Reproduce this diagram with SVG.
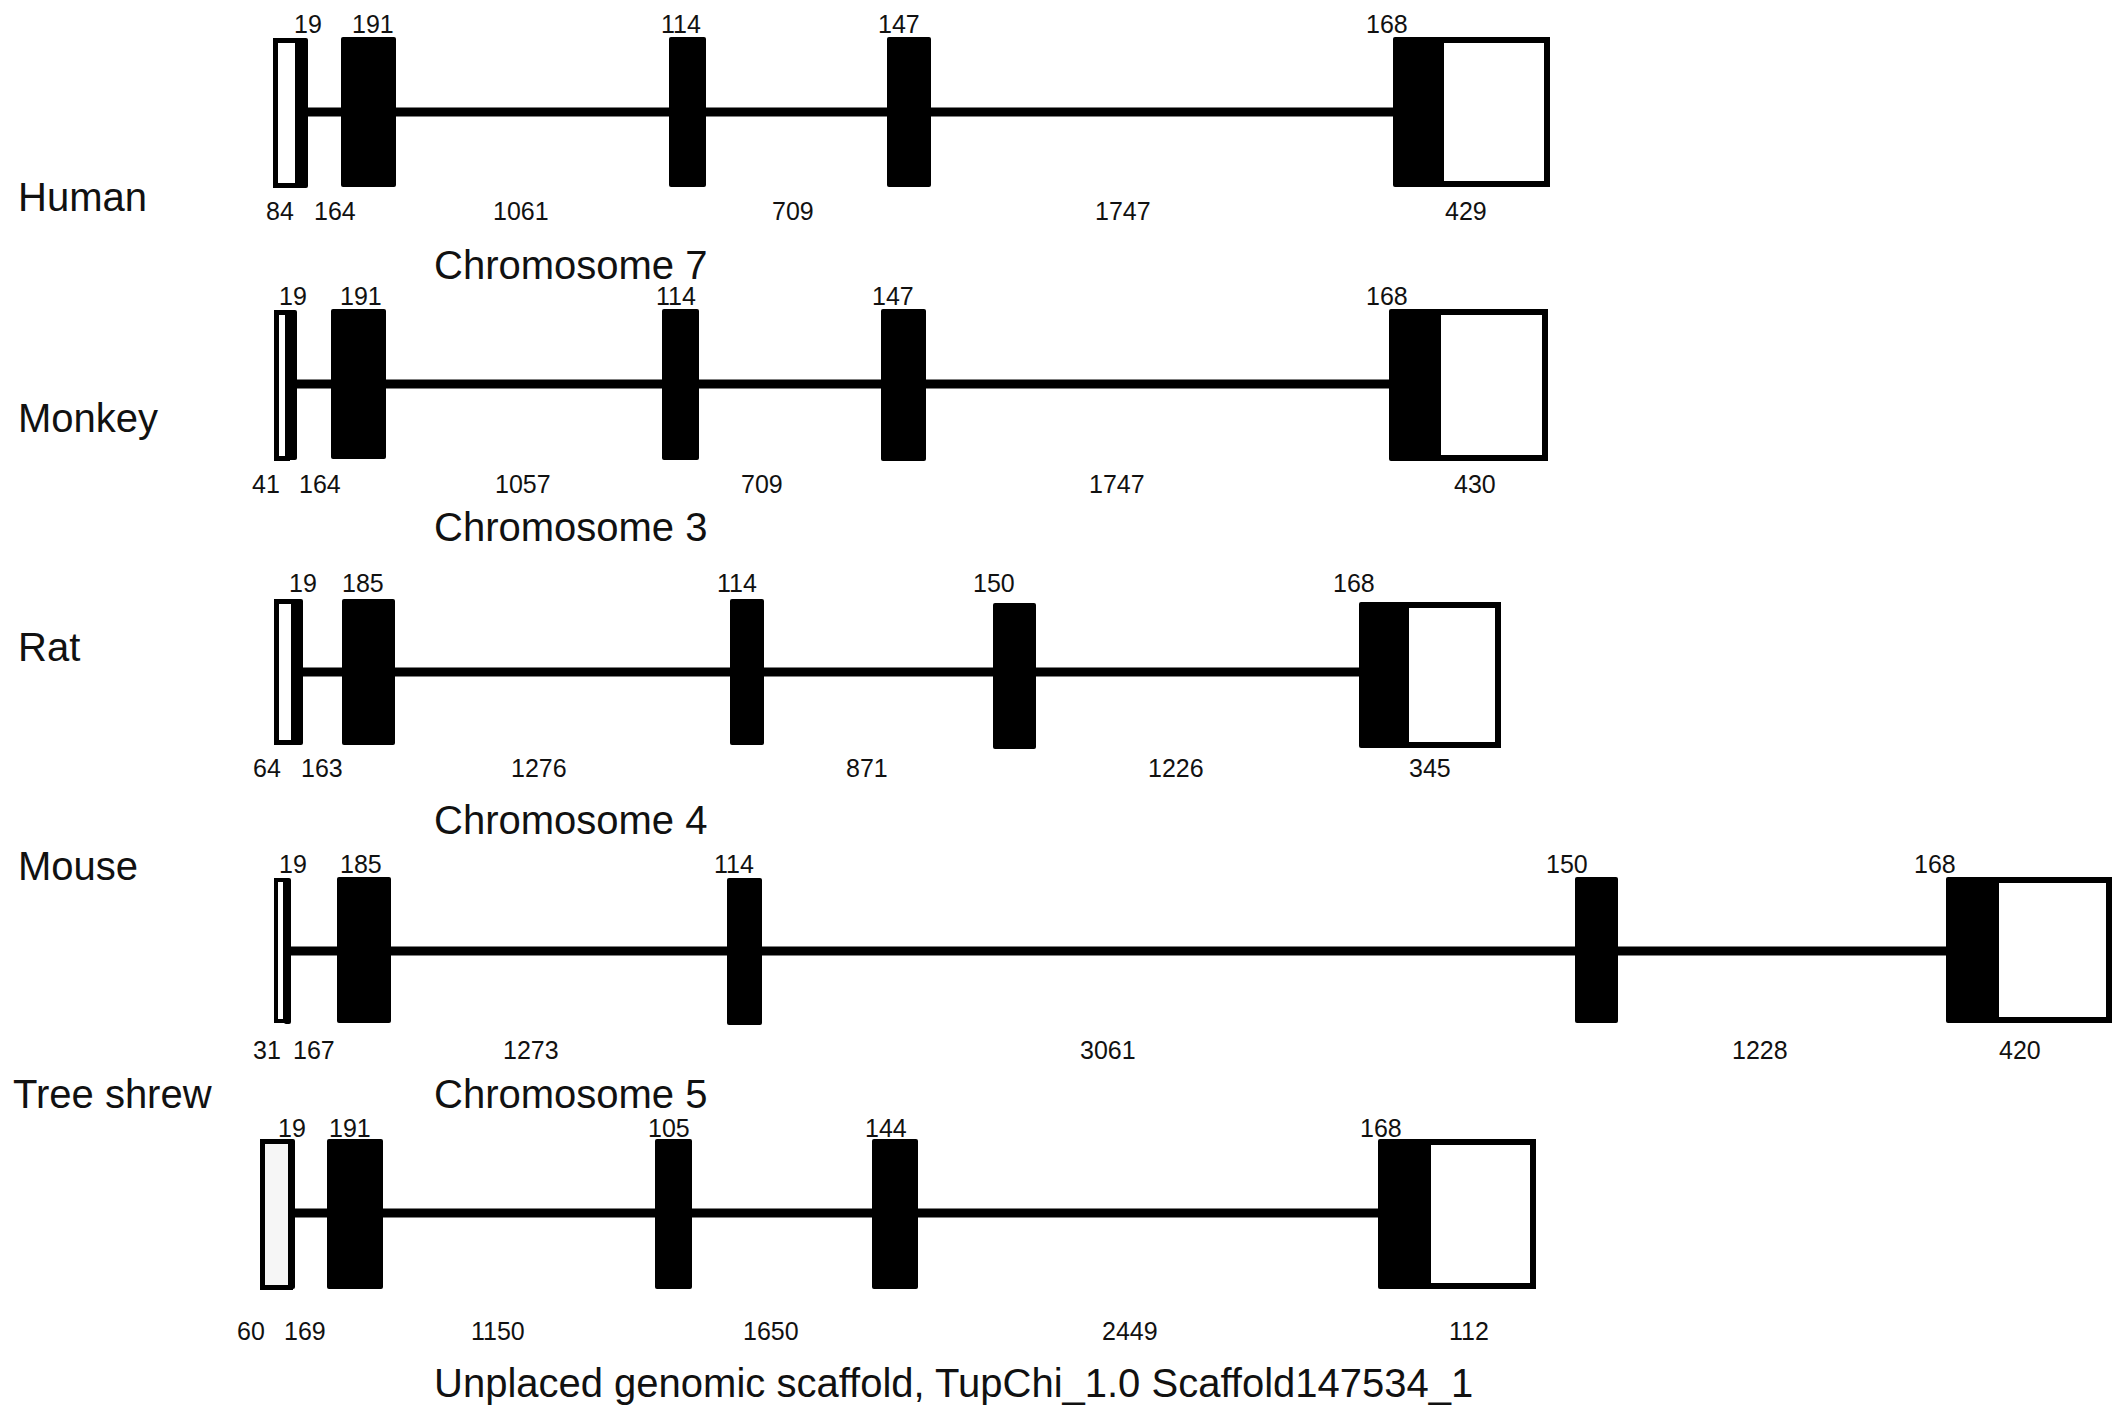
<svg xmlns="http://www.w3.org/2000/svg" width="2126" height="1419" viewBox="0 0 2126 1419">
<style>
.ex{fill:#000;}
.utr{fill:#fff;stroke:#000;stroke-width:5;}
.utr3{fill:#fff;stroke:#000;stroke-width:6;}
.intron{stroke:#000;stroke-width:9;fill:none;}
.num{font-family:"Liberation Sans",Arial,sans-serif;font-size:25px;fill:#111;}
.sp{font-family:"Liberation Sans",Arial,sans-serif;font-size:40px;fill:#111;}
</style>
<rect width="2126" height="1419" fill="#fff"/>
<g id="connectors">
<line class="intron" x1="305" y1="112" x2="1395" y2="112"/>
<line class="intron" x1="295" y1="384" x2="1391" y2="384"/>
<line class="intron" x1="300" y1="672" x2="1361" y2="672"/>
<line class="intron" x1="288" y1="951" x2="1948" y2="951"/>
<line class="intron" x1="293" y1="1213" x2="1380" y2="1213"/>
</g>
<g id="human">
<text class="sp" x="18" y="211">Human</text>
<rect class="utr" x="275.5" y="40.5" width="22" height="145"/>
<rect class="ex" x="296" y="38" width="12" height="150" rx="2"/>
<rect class="ex" x="341" y="37" width="55" height="150" rx="2"/>
<rect class="ex" x="669" y="37" width="37" height="150" rx="2"/>
<rect class="ex" x="887" y="37" width="44" height="150" rx="2"/>
<rect class="utr3" x="1441" y="40" width="106" height="144"/>
<rect class="ex" x="1393" y="37" width="48" height="150" rx="2"/>
<text class="num" x="294" y="33">19</text>
<text class="num" x="352" y="33">191</text>
<text class="num" x="661" y="33">114</text>
<text class="num" x="878" y="33">147</text>
<text class="num" x="1366" y="33">168</text>
<text class="num" x="266" y="220">84</text>
<text class="num" x="314" y="220">164</text>
<text class="num" x="493" y="220">1061</text>
<text class="num" x="772" y="220">709</text>
<text class="num" x="1095" y="220">1747</text>
<text class="num" x="1445" y="220">429</text>
<text class="sp" x="434" y="279">Chromosome 7</text>
</g>
<g id="monkey">
<text class="sp" x="18" y="432">Monkey</text>
<rect class="utr" x="276.5" y="312.5" width="11" height="146"/>
<rect class="ex" x="287" y="310" width="10" height="150" rx="2"/>
<rect class="ex" x="331" y="309" width="55" height="150" rx="2"/>
<rect class="ex" x="662" y="309" width="37" height="151" rx="2"/>
<rect class="ex" x="881" y="309" width="45" height="152" rx="2"/>
<rect class="utr3" x="1438" y="312" width="107" height="146"/>
<rect class="ex" x="1389" y="309" width="49" height="152" rx="2"/>
<text class="num" x="279" y="305">19</text>
<text class="num" x="340" y="305">191</text>
<text class="num" x="656" y="305">114</text>
<text class="num" x="872" y="305">147</text>
<text class="num" x="1366" y="305">168</text>
<text class="num" x="252" y="493">41</text>
<text class="num" x="299" y="493">164</text>
<text class="num" x="495" y="493">1057</text>
<text class="num" x="741" y="493">709</text>
<text class="num" x="1089" y="493">1747</text>
<text class="num" x="1454" y="493">430</text>
<text class="sp" x="434" y="541">Chromosome 3</text>
</g>
<g id="rat">
<text class="sp" x="18" y="661">Rat</text>
<rect class="utr" x="276.5" y="601.5" width="17" height="141"/>
<rect class="ex" x="292" y="599" width="11" height="146" rx="2"/>
<rect class="ex" x="342" y="599" width="53" height="146" rx="2"/>
<rect class="ex" x="730" y="599" width="34" height="146" rx="2"/>
<rect class="ex" x="993" y="603" width="43" height="146" rx="2"/>
<rect class="utr3" x="1406" y="605" width="92" height="140"/>
<rect class="ex" x="1359" y="602" width="47" height="146" rx="2"/>
<text class="num" x="289" y="592">19</text>
<text class="num" x="342" y="592">185</text>
<text class="num" x="717" y="592">114</text>
<text class="num" x="973" y="592">150</text>
<text class="num" x="1333" y="592">168</text>
<text class="num" x="253" y="777">64</text>
<text class="num" x="301" y="777">163</text>
<text class="num" x="511" y="777">1276</text>
<text class="num" x="846" y="777">871</text>
<text class="num" x="1148" y="777">1226</text>
<text class="num" x="1409" y="777">345</text>
<text class="sp" x="434" y="834">Chromosome 4</text>
</g>
<g id="mouse">
<text class="sp" x="18" y="880">Mouse</text>
<rect class="utr" x="276" y="880" width="9" height="141" style="stroke-width:4"/>
<rect class="ex" x="284" y="878" width="7" height="146" rx="2"/>
<rect class="ex" x="337" y="877" width="54" height="146" rx="2"/>
<rect class="ex" x="727" y="878" width="35" height="147" rx="2"/>
<rect class="ex" x="1575" y="877" width="43" height="146" rx="2"/>
<rect class="utr3" x="1996" y="880" width="113" height="140"/>
<rect class="ex" x="1946" y="877" width="50" height="146" rx="2"/>
<text class="num" x="279" y="873">19</text>
<text class="num" x="340" y="873">185</text>
<text class="num" x="714" y="873">114</text>
<text class="num" x="1546" y="873">150</text>
<text class="num" x="1914" y="873">168</text>
<text class="num" x="253" y="1059">31</text>
<text class="num" x="293" y="1059">167</text>
<text class="num" x="503" y="1059">1273</text>
<text class="num" x="1080" y="1059">3061</text>
<text class="num" x="1732" y="1059">1228</text>
<text class="num" x="1999" y="1059">420</text>
<text class="sp" x="434" y="1108">Chromosome 5</text>
</g>
<g id="treeshrew">
<text class="sp" x="13" y="1108">Tree shrew</text>
<rect class="utr" x="262.5" y="1141.5" width="28" height="146" style="fill:#f6f6f6"/>
<rect class="ex" x="289" y="1139" width="6" height="150" rx="2"/>
<rect class="ex" x="327" y="1139" width="56" height="150" rx="2"/>
<rect class="ex" x="655" y="1139" width="37" height="150" rx="2"/>
<rect class="ex" x="872" y="1139" width="46" height="150" rx="2"/>
<rect class="utr3" x="1428" y="1142" width="105" height="144"/>
<rect class="ex" x="1378" y="1139" width="50" height="150" rx="2"/>
<text class="num" x="278" y="1137">19</text>
<text class="num" x="329" y="1137">191</text>
<text class="num" x="648" y="1137">105</text>
<text class="num" x="865" y="1137">144</text>
<text class="num" x="1360" y="1137">168</text>
<text class="num" x="237" y="1340">60</text>
<text class="num" x="284" y="1340">169</text>
<text class="num" x="471" y="1340">1150</text>
<text class="num" x="743" y="1340">1650</text>
<text class="num" x="1102" y="1340">2449</text>
<text class="num" x="1449" y="1340">112</text>
<text class="sp" x="434" y="1397">Unplaced genomic scaffold, TupChi_1.0 Scaffold147534_1</text>
</g>
</svg>
